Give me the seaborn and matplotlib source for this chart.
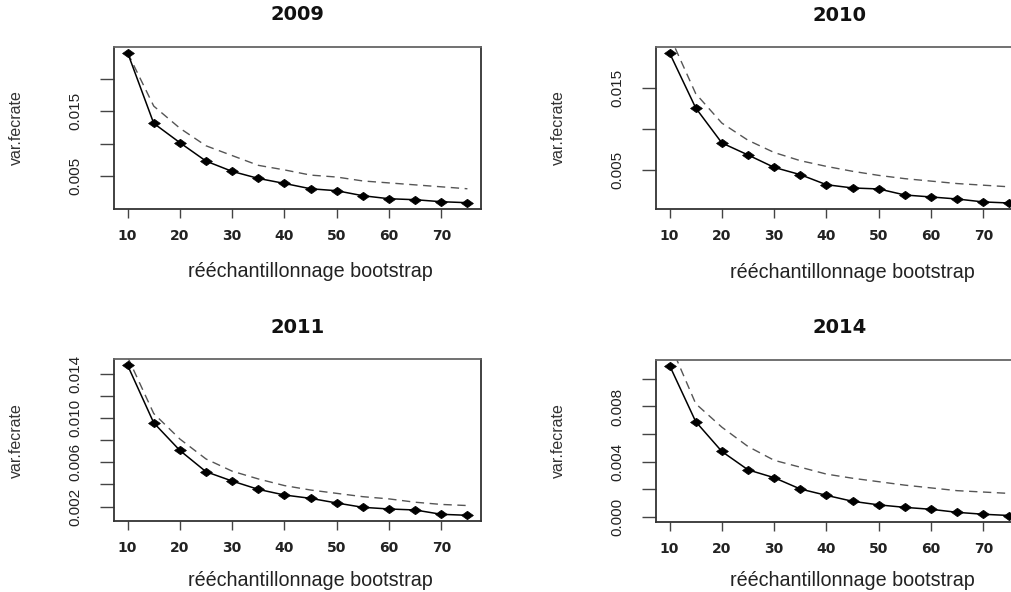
import matplotlib
matplotlib.use("Agg")
import matplotlib.pyplot as plt
import seaborn as sns
import pandas as pd
from matplotlib import font_manager

# bootstrap resample sizes
resample = [10, 15, 20, 25, 30, 35, 40, 45, 50, 55, 60, 65, 70, 75]
x_ticks = [10, 20, 30, 40, 50, 60, 70]
x_tick_labels = ["10", "20", "30", "40", "50", "60", "70"]

years = ["2009", "2010", "2011", "2014"]

# solid line (observed variance) and dashed line (reference curve)
var_2009 = [0.0240, 0.01315, 0.01018, 0.00735, 0.00577, 0.00469, 0.00392,
            0.00310, 0.00280, 0.00203, 0.00157, 0.00142, 0.00111, 0.00096]
ref_2009 = [0.0240, 0.0158, 0.0124, 0.0097, 0.0082, 0.0067, 0.0060,
            0.0052, 0.0049, 0.0043, 0.0040, 0.0037, 0.0034, 0.0031]

var_2010 = [0.01928, 0.01255, 0.00827, 0.00680, 0.00528, 0.00439, 0.00316,
            0.00276, 0.00264, 0.00190, 0.00166, 0.00141, 0.00105, 0.00092]
ref_2010 = [0.0214, 0.0143, 0.0107, 0.0086, 0.0071, 0.0061, 0.0054,
            0.0048, 0.0043, 0.0039, 0.0036, 0.0033, 0.0031, 0.0029]

var_2011 = [0.01475, 0.00956, 0.00707, 0.00515, 0.00431, 0.00356, 0.00305,
            0.00275, 0.00233, 0.00194, 0.00179, 0.00170, 0.00131, 0.00122]
ref_2011 = [0.0155, 0.0104, 0.0081, 0.0063, 0.0052, 0.0045, 0.0039,
            0.0035, 0.0032, 0.0029, 0.0027, 0.0024, 0.0022, 0.0021]

var_2014 = [0.01097, 0.00690, 0.00474, 0.00341, 0.00284, 0.00202, 0.00156,
            0.00113, 0.00087, 0.00069, 0.00055, 0.00033, 0.00019, 0.00010]
ref_2014 = [0.0126, 0.0082, 0.0065, 0.0051, 0.0041, 0.0036, 0.0031,
            0.0028, 0.00255, 0.0023, 0.0021, 0.0019, 0.0018, 0.0017]

# y ticks (R skips some labels when they would overlap)
yticks_2009 = [0.005, 0.010, 0.015, 0.020]
ylabels_2009 = ["0.005", "", "0.015", ""]
yticks_2010 = [0.005, 0.010, 0.015]
ylabels_2010 = ["0.005", "", "0.015"]
yticks_2011 = [0.002, 0.004, 0.006, 0.008, 0.010, 0.012, 0.014]
ylabels_2011 = ["0.002", "", "0.006", "", "0.010", "", "0.014"]
yticks_2014 = [0.000, 0.002, 0.004, 0.006, 0.008, 0.010]
ylabels_2014 = ["0.000", "", "0.004", "", "0.008", ""]

sns.set_theme(style="ticks")
plt.rcParams["font.family"] = ["Liberation Sans", "DejaVu Sans"]

installed = {f.name for f in font_manager.fontManager.ttflist}
narrow = "Liberation Sans Narrow" if "Liberation Sans Narrow" in installed else "Liberation Sans"

W, H = 1011, 592
fig = plt.figure(figsize=(W / 100, H / 100), dpi=100)

AX_W, AX_H = 367, 162


def px_rect(left, top):
    return [left / W, 1 - (top + AX_H) / H, AX_W / W, AX_H / H]


panels = [
    (years[0], var_2009, ref_2009, yticks_2009, ylabels_2009, px_rect(114, 46.7), -0.39),
    (years[1], var_2010, ref_2010, yticks_2010, ylabels_2010, px_rect(656, 47), -0.39),
    (years[2], var_2011, ref_2011, yticks_2011, ylabels_2011, px_rect(114, 359.3), -0.365),
    (years[3], var_2014, ref_2014, yticks_2014, ylabels_2014, px_rect(656, 359.5), -0.365),
]

diamond = [(-1.4, 0), (0, 1), (1.4, 0), (0, -1), (-1.4, 0)]

for year, solid, dashed, yt, ytl, rect, xlab_y in panels:
    ax = fig.add_axes(rect)
    df = pd.DataFrame({"n": resample, "var": solid, "ref": dashed})

    sns.lineplot(data=df, x="n", y="ref", ax=ax, color="#555555", lw=1.0,
                 linestyle=(0, (6, 4)), errorbar=None)
    sns.lineplot(data=df, x="n", y="var", ax=ax, color="black", lw=1.1,
                 marker=diamond, markersize=8.5, mfc="black", mec="black",
                 mew=0.5, errorbar=None)

    # R style axis range: data range of the solid series + 4%
    lo, hi = min(solid), max(solid)
    pad = 0.04 * (hi - lo)
    ax.set_ylim(lo - pad, hi + pad)
    ax.set_xlim(7.4, 77.6)

    ax.set_xticks(x_ticks)
    ax.set_xticklabels(x_tick_labels, fontfamily="DejaVu Sans",
                       fontweight="bold", fontsize=10, color="#222")
    ax.set_yticks(yt)
    ax.set_yticklabels(ytl, rotation=90, va="center", fontfamily=narrow,
                       fontsize=11, color="#222")
    ax.tick_params(axis="y", length=10, width=1, pad=13, color="#444")
    ax.tick_params(axis="x", length=6.5, width=1, pad=8, color="#444")

    for s in ax.spines.values():
        s.set_visible(True)
        s.set_color("#333")
        s.set_linewidth(1.3)
    ax.spines["top"].set_color("#666")

    ax.set_xlabel("rééchantillonnage bootstrap", fontsize=14.2, va="center",
                  color="#222")
    ax.xaxis.set_label_coords(0.534, xlab_y)
    ax.set_ylabel("var.fecrate", fontfamily=narrow, fontsize=11.5,
                  va="center", color="#333")
    ax.yaxis.set_label_coords(-98 / AX_W, 0.5)

    ax.text(0.5, 1 + 31.7 / AX_H, year, transform=ax.transAxes,
            ha="center", va="center", fontweight="bold", fontsize=14,
            family="DejaVu Sans", color="#111")

fig.savefig("out.png", dpi=100)
plt.close(fig)
